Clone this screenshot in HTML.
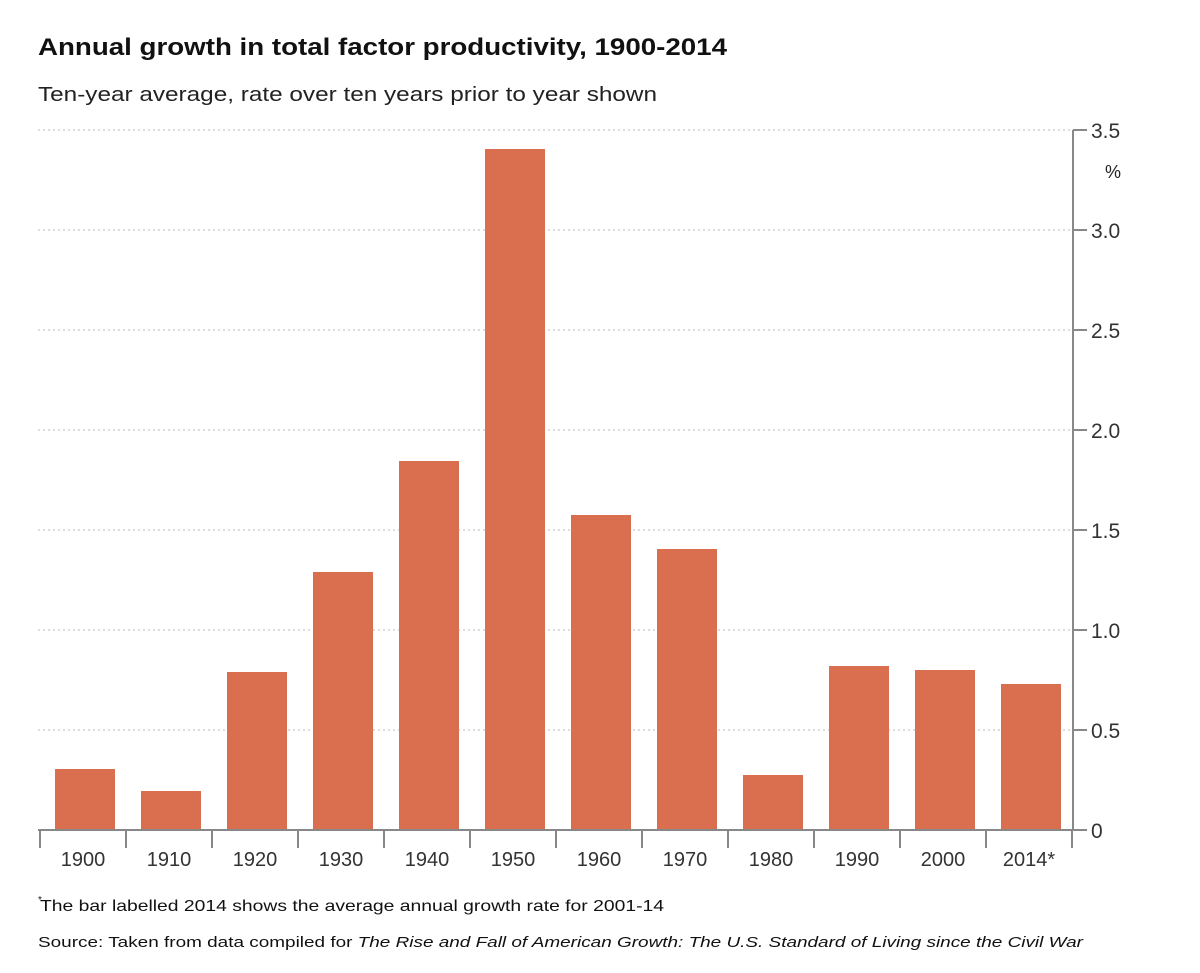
<!DOCTYPE html>
<html><head><meta charset="utf-8"><style>
body{margin:0;background:#fff;font-family:"Liberation Sans",sans-serif;}
</style></head><body>
<svg width="1200" height="968">
<text x="38" y="55" font-size="24" font-weight="bold" fill="#111" textLength="689" lengthAdjust="spacingAndGlyphs">Annual growth in total factor productivity, 1900-2014</text>
<text x="38" y="101" font-size="20" fill="#222" textLength="619" lengthAdjust="spacingAndGlyphs">Ten-year average, rate over ten years prior to year shown</text>
<g id="grid"></g><g id="bars"></g><g id="axes"></g>
<text x="1113" y="178" font-size="18" fill="#222" text-anchor="middle">%</text>
<text x="40" y="911" font-size="16" fill="#111" textLength="624" lengthAdjust="spacingAndGlyphs">The bar labelled 2014 shows the average annual growth rate for 2001-14</text>
<text x="38" y="903" font-size="10" fill="#111">*</text>
<text x="38" y="947" font-size="15" fill="#111" textLength="1045" lengthAdjust="spacingAndGlyphs">Source: Taken from data compiled for <tspan font-style="italic">The Rise and Fall of American Growth: The U.S. Standard of Living since the Civil War</tspan></text>
</svg>
<script>
const categories=["1900","1910","1920","1930","1940","1950","1960","1970","1980","1990","2000","2014*"];
const values=[0.305,0.195,0.79,1.29,1.845,3.405,1.575,1.405,0.275,0.82,0.80,0.73];
const yTicks=[0,0.5,1.0,1.5,2.0,2.5,3.0,3.5];
const yTickLabels=["0","0.5","1.0","1.5","2.0","2.5","3.0","3.5"];
const NS="http://www.w3.org/2000/svg";
const x0=40,step=86,y0=830,yMax=3.5,plotTop=130,axisX=1073;
const y=v=>y0-(v/yMax)*(y0-plotTop);
const xc=i=>x0+i*step;
function mk(t,a,p){const e=document.createElementNS(NS,t);for(const k in a)e.setAttribute(k,a[k]);p.appendChild(e);return e;}
const grid=document.getElementById('grid'),bars=document.getElementById('bars'),axes=document.getElementById('axes');
yTicks.forEach((t,i)=>{
 if(t>0){const g=mk('line',{x1:38,x2:axisX,y1:y(t),y2:y(t),stroke:'#bbb','stroke-width':1,'stroke-dasharray':'2,3'},grid);
 
 }
 const tk=mk('line',{x1:axisX,x2:axisX+14,y1:y(t),y2:y(t),stroke:'#888','stroke-width':2},axes);
 
 
 const lb=mk('text',{x:axisX+18,y:y(t)+8,'font-size':21,fill:'#333'},axes);lb.textContent=yTickLabels[i];
 
 
});
categories.forEach((c,i)=>{
 const r=mk('rect',{x:xc(i)+15,y:y(values[i]),width:60,height:y0-y(values[i]),fill:'#d96f4e'},bars);
 
 
 const l=mk('text',{x:xc(i)+43,y:866,'font-size':20,fill:'#333','text-anchor':'middle'},axes);l.textContent=c;
 
 
});
for(let i=0;i<=categories.length;i++){
 const t=mk('line',{x1:xc(i),x2:xc(i),y1:y0,y2:848,stroke:'#888','stroke-width':2},axes);
 
 
}
const xa=mk('line',{x1:38,x2:axisX,y1:y0,y2:y0,stroke:'#888','stroke-width':2},axes);


const ya=mk('line',{x1:axisX,x2:axisX,y1:plotTop,y2:y0,stroke:'#888','stroke-width':2},axes);


</script>
</body></html>
